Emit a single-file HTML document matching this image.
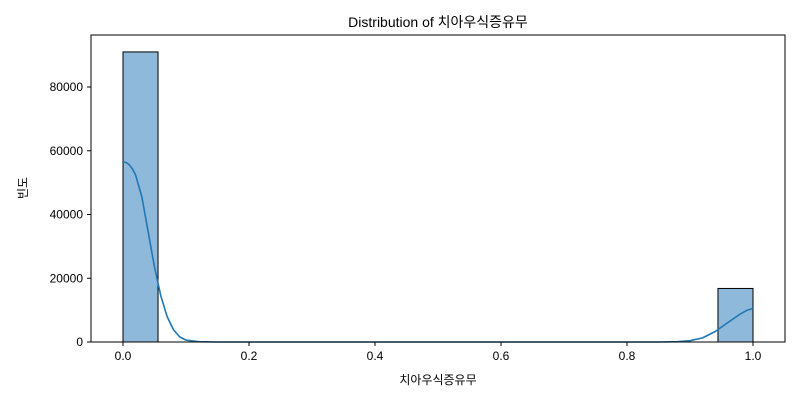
<!DOCTYPE html>
<html><head><meta charset="utf-8"><style>
body{margin:0;background:#fff;}
svg text{font-family:"Liberation Sans","Noto Sans CJK KR",sans-serif;fill:#000;}
</style></head><body>
<svg width="800" height="400" xmlns="http://www.w3.org/2000/svg">
<rect width="800" height="400" fill="#fff"/>
<text x="438" y="27" font-size="14" text-anchor="middle">Distribution of 치아우식증유무</text>
<g id="plot"></g>
<rect x="91" y="35" width="694" height="307" fill="none" stroke="#000" stroke-width="1"/>
<text x="438" y="384" font-size="12" text-anchor="middle">치아우식증유무</text>
<text transform="translate(27,188) rotate(-90)" font-size="12" text-anchor="middle">빈도</text>
</svg>
<script>
const binEdges=[0,0.0556,0.9444,1.0];
const binCounts=[91000,0,16800];
const xTicks=[0,0.2,0.4,0.6,0.8,1.0];
const xTickLabels=["0.0","0.2","0.4","0.6","0.8","1.0"];
const yTicks=[0,20000,40000,60000,80000];
const yTickLabels=["0","20000","40000","60000","80000"];
const kdeX=[0,0.005,0.01,0.015,0.02,0.03,0.04,0.05,0.06,0.07,0.08,0.09,0.1,0.12,0.15,0.2,0.8,0.85,0.88,0.9,0.92,0.94,0.96,0.98,0.99,1.0];
const kdeY=[56500,56300,55600,54300,52400,45500,34500,23500,14500,8000,3900,1600,600,100,0,0,0,0,80,400,1300,3300,6100,8800,9900,10500];
const NS="http://www.w3.org/2000/svg";
const sx=v=>123+v*630;
const sy=v=>342-v*(255/80000);
const g=document.getElementById('plot');
function mk(t,a){const e=document.createElementNS(NS,t);for(const k in a)e.setAttribute(k,a[k]);g.appendChild(e);return e;}
for(let i=0;i<binCounts.length;i++){
 if(binCounts[i]<=0)continue;
 const r=mk('rect',{x:sx(binEdges[i]),y:sy(binCounts[i]),width:sx(binEdges[i+1])-sx(binEdges[i]),height:sy(0)-sy(binCounts[i]),fill:'#8fb9db',stroke:'#000','stroke-width':1});
 
 
}
const p=mk('path',{d:kdeX.map((x,i)=>(i?'L':'M')+sx(x).toFixed(1)+','+sy(kdeY[i]).toFixed(1)).join(''),fill:'none',stroke:'#1f77b4','stroke-width':1.6,'stroke-linejoin':'round'});


xTicks.forEach((v,i)=>{
 const l=mk('line',{x1:sx(v),x2:sx(v),y1:342,y2:346,stroke:'#000'});
 
 
 const t=mk('text',{x:sx(v),y:360,'font-size':12,'text-anchor':'middle'});
 t.textContent=xTickLabels[i];
 
 
});
yTicks.forEach((v,i)=>{
 const l=mk('line',{x1:87,x2:91,y1:sy(v),y2:sy(v),stroke:'#000'});
 
 
 const t=mk('text',{x:83,y:sy(v)+4,'font-size':12,'text-anchor':'end'});
 t.textContent=yTickLabels[i];
 
 
});
</script>
</body></html>
